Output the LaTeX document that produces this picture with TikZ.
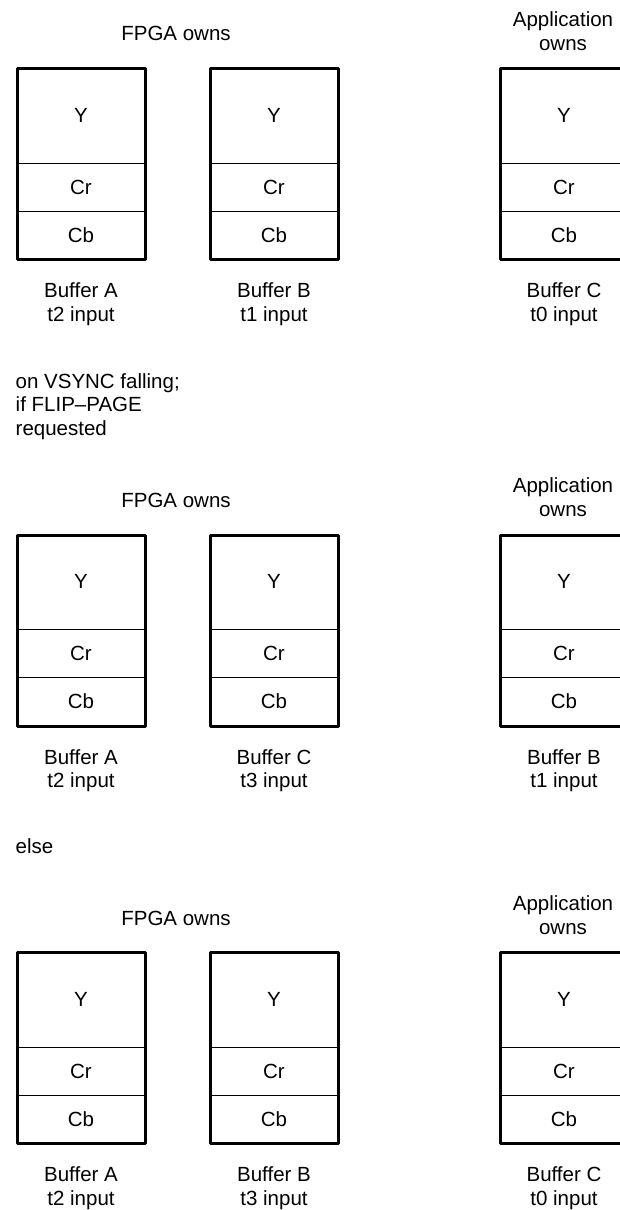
\documentclass[tikz,border=0pt]{standalone}
\usepackage{fontspec}
\setmainfont{Liberation Sans}
\tikzset{
  lbl/.style={inner sep=0pt, font=\fontsize{20.5}{23.5}\selectfont, align=center, text=black},
  lbll/.style={inner sep=0pt, font=\fontsize{20.5}{23.5}\selectfont, align=left, text=black},
  bufframe/.style={rectangle, draw=black, line width=3pt, line join=round, inner sep=0pt,
                   minimum width=128pt, minimum height=191pt},
  divider/.style={draw=black, line width=1pt}
}
\newcommand\bufferbox[4]{%
  \node[bufframe, anchor=north west] (#1) at (#2,#3) {};
  \draw[divider] ([yshift=-96pt]#1.north west) -- ([yshift=-96pt]#1.north east);
  \draw[divider] ([yshift=-144pt]#1.north west) -- ([yshift=-144pt]#1.north east);
  \node[lbl] (#1-y) at ([yshift=-48pt]#1.north) {Y};
  \node[lbl] (#1-cr) at ([yshift=-120pt]#1.north) {Cr};
  \node[lbl] (#1-cb) at ([yshift=-168pt]#1.north) {Cb};
  \node[lbl] (#1-name) at ([yshift=-237pt]#1.north) {#4};
}
\begin{document}
\begin{tikzpicture}[x=1pt,y=-1pt]
\useasboundingbox (0,0) rectangle (620,1210);
\clip (0,0) rectangle (620,1210);

% Block 1
\node[lbl] (f1) at (176,33.5) {FPGA owns};
\node[lbl] (a1) at (563,31.4) {Application\\owns};
\bufferbox{b1A}{15.5}{67}{Buffer A\\t2 input}
\bufferbox{b1B}{208.5}{67}{Buffer B\\t1 input}
\bufferbox{b1C}{498.5}{67}{Buffer C\\t0 input}

\node[lbll, anchor=north west] (cond1) at (15.5,373.3) {on VSYNC falling;\\if FLIP–PAGE\\requested};

% Block 2
\node[lbl] (f2) at (176,500) {FPGA owns};
\node[lbl] (a2) at (563,497) {Application\\owns};
\bufferbox{b2A}{15.5}{533.5}{Buffer A\\t2 input}
\bufferbox{b2C}{208.5}{533.5}{Buffer C\\t3 input}
\bufferbox{b2B}{498.5}{533.5}{Buffer B\\t1 input}

\node[lbll, anchor=west] (cond2) at (15.5,846) {else};

% Block 3
\node[lbl] (f3) at (176,918) {FPGA owns};
\node[lbl] (a3) at (563,915) {Application\\owns};
\bufferbox{b3A}{15.5}{951}{Buffer A\\t2 input}
\bufferbox{b3B}{208.5}{951}{Buffer B\\t3 input}
\bufferbox{b3C}{498.5}{951}{Buffer C\\t0 input}
\end{tikzpicture}
\end{document}
